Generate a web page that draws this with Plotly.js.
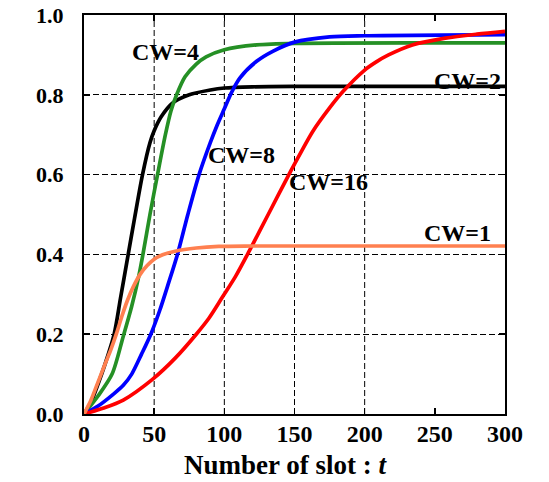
<!DOCTYPE html>
<html>
<head>
<meta charset="utf-8">
<script src="https://cdn.plot.ly/plotly-3.0.1.min.js"></script>
<style>
html,body{margin:0;padding:0;background:#fff;}
#chart{width:549px;height:482px;}
</style>
</head>
<body>
<div id="chart"></div>
<script>
// CW=2 (black)
var cw2X = [0, 5, 10, 15, 21.5, 26, 31, 36, 41.7, 47, 50, 55, 63, 75, 90, 100, 120, 150, 200, 300];
var cw2Y = [0, 0.03, 0.075, 0.125, 0.2, 0.29, 0.39, 0.49, 0.6, 0.68, 0.71, 0.745, 0.779, 0.8, 0.812, 0.817, 0.82, 0.821, 0.821, 0.821];
// CW=1 (orange)
var cw1X = [0, 5, 10, 15, 19, 23, 27, 31, 35, 40, 45, 50, 56, 65, 80, 96, 120, 300];
var cw1Y = [0, 0.035, 0.08, 0.125, 0.16, 0.2, 0.245, 0.285, 0.318, 0.35, 0.372, 0.388, 0.399, 0.408, 0.416, 0.42, 0.421, 0.421];
// CW=4 (green)
var cw4X = [0, 10, 20, 28, 34, 39, 42, 47, 52.4, 58, 62, 66, 72, 80, 87, 100, 123, 150, 300];
var cw4Y = [0, 0.045, 0.1, 0.195, 0.27, 0.345, 0.4, 0.5, 0.6, 0.7, 0.76, 0.8, 0.845, 0.877, 0.895, 0.913, 0.925, 0.929, 0.93];
// CW=8 (blue)
var cw8X = [0, 10, 21, 28, 34, 41, 47.6, 54, 59.5, 66.6, 74, 82, 90, 95, 100, 105, 111, 123, 134.5, 150, 175, 200, 300];
var cw8Y = [0, 0.02, 0.05, 0.072, 0.1, 0.15, 0.2, 0.26, 0.32, 0.4, 0.5, 0.6, 0.68, 0.725, 0.765, 0.805, 0.842, 0.884, 0.909, 0.932, 0.945, 0.948, 0.951];
// CW=16 (red)
var cw16X = [0, 14, 28, 49, 65, 80, 89, 99, 108, 118, 132, 146, 150, 163, 175, 184.5, 200, 208, 217, 234, 257.5, 280, 300];
var cw16Y = [0, 0.015, 0.035, 0.0875, 0.14, 0.2, 0.24, 0.295, 0.345, 0.41, 0.505, 0.6, 0.626, 0.708, 0.767, 0.808, 0.862, 0.882, 0.9, 0.925, 0.942, 0.952, 0.959];

var seriesNames = ['CW=2', 'CW=4', 'CW=8', 'CW=16', 'CW=1'];
var seriesColors = ['#000000', '#259025', '#0000FF', '#FF0000', '#FF8050'];
var seriesX = [cw2X, cw4X, cw8X, cw16X, cw1X];
var seriesY = [cw2Y, cw4Y, cw8Y, cw16Y, cw1Y];

// curve labels
var labelText = ['CW=4', 'CW=2', 'CW=8', 'CW=16', 'CW=1'];
var labelX = [58, 273, 112, 174, 266];
var labelY = [0.907, 0.835, 0.648, 0.581, 0.454];

var xTickVals = [0, 50, 100, 150, 200, 250, 300];
var yTickVals = [0, 0.2, 0.4, 0.6, 0.8, 1.0];
var yTickText = ['0.0', '0.2', '0.4', '0.6', '0.8', '1.0'];
var xGridVals = [50, 100, 150, 200];
var xTitle = 'Number of slot : <i>t</i>';

var serif = 'Liberation Serif';

var traces = seriesX.map(function (xs, i) {
  return {
    x: xs, y: seriesY[i], name: seriesNames[i], type: 'scatter', mode: 'lines',
    line: {color: seriesColors[i], width: 3.7, shape: 'spline', smoothing: 0.8},
    hoverinfo: 'skip'
  };
});

var shapes = xGridVals.map(function (v) {
  return {type: 'line', xref: 'x', yref: 'paper', x0: v, x1: v, y0: 0, y1: 1,
    line: {color: '#000', width: 1, dash: '6px,3px'}, layer: 'below'};
});

var annotations = labelText.map(function (t, i) {
  return {x: labelX[i], y: labelY[i], xref: 'x', yref: 'y', text: t, showarrow: false,
    font: {family: serif, size: 24, color: '#000', weight: 'bold'}};
});
annotations.push({x: 0.479, y: -0.127, xref: 'paper', yref: 'paper', text: xTitle,
  showarrow: false, xanchor: 'center', yanchor: 'middle', borderpad: 0,
  font: {family: serif, size: 27, color: '#000', weight: 'bold'}});

var layout = {
  width: 549, height: 482,
  margin: {l: 84, r: 44, t: 15, b: 68},
  paper_bgcolor: '#fff', plot_bgcolor: '#fff',
  showlegend: false,
  font: {family: serif},
  shapes: shapes,
  annotations: annotations,
  xaxis: {
    range: [0, 300], tickvals: xTickVals, ticktext: xTickVals.map(String),
    showgrid: false, zeroline: false,
    showline: true, linecolor: '#000', linewidth: 2, mirror: 'ticks',
    ticks: 'inside', ticklen: 6, tickwidth: 1.5, tickcolor: '#000',
    ticklabelstandoff: -3,
    tickfont: {family: serif, size: 24, color: '#000', weight: 'bold'}
  },
  yaxis: {
    range: [0, 1], tickvals: yTickVals, ticktext: yTickText,
    showgrid: true, gridcolor: '#000', gridwidth: 1, griddash: '6px,3px',
    zeroline: false,
    showline: true, linecolor: '#000', linewidth: 2, mirror: 'ticks',
    ticks: 'inside', ticklen: 6, tickwidth: 1.5, tickcolor: '#000',
    ticklabelstandoff: 14,
    tickfont: {family: serif, size: 22, color: '#000', weight: 'bold'}
  }
};

Plotly.newPlot('chart', traces, layout, {displayModeBar: false, staticPlot: true});
</script>
</body>
</html>
